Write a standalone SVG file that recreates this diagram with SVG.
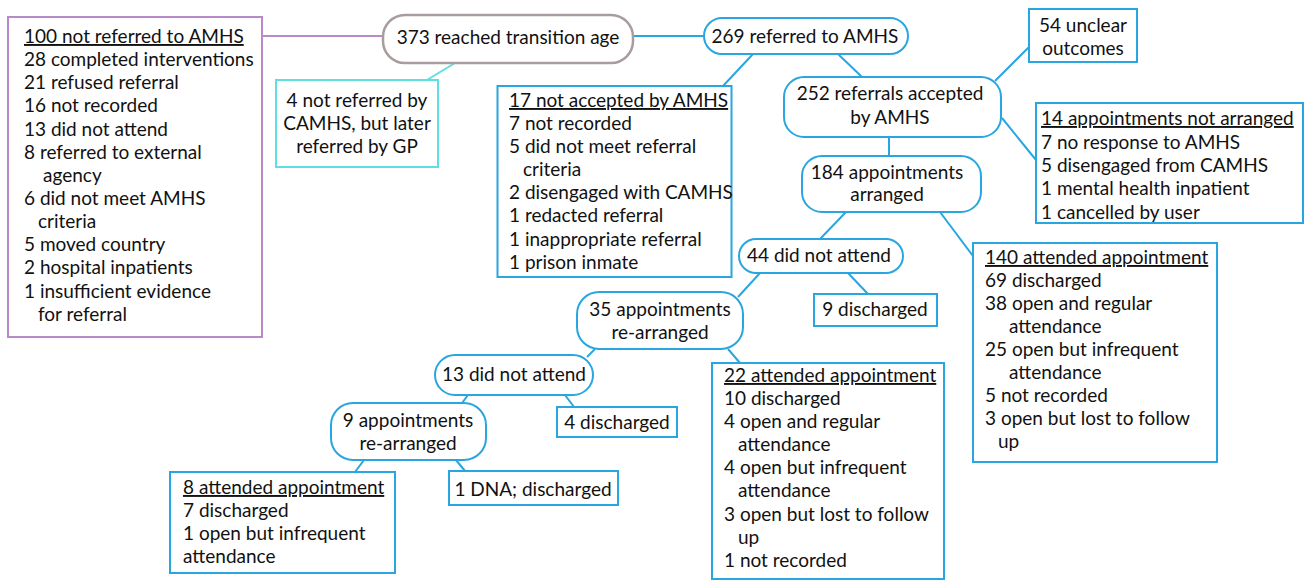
<svg xmlns="http://www.w3.org/2000/svg" width="1306" height="581" viewBox="0 0 1306 581">
<style>
text{font-family:Lato,"Liberation Sans",sans-serif;font-size:19px;fill:#111}
.c{text-anchor:middle}
.u{text-decoration:underline}
.b{fill:#fff;stroke:#29a6e0;stroke-width:2}
.p{fill:#fff;stroke:#b98ac8;stroke-width:2}
.g{fill:#fff;stroke:#a89c9c;stroke-width:2.5}
.cy{fill:#fff;stroke:#5fdfe0;stroke-width:2}
.lb{stroke:#29a6e0;stroke-width:2;fill:none}
.lp{stroke:#b98ac8;stroke-width:2;fill:none}
.lc{stroke:#5fdfe0;stroke-width:2;fill:none}
</style>
<rect width="1306" height="581" fill="#fff"/>
<g id="connectors">
<line class="lp" x1="262" y1="36" x2="383" y2="36"/>
<line class="lc" x1="455" y1="63" x2="427" y2="80"/>
<line class="lb" x1="633" y1="36" x2="704" y2="36"/>
<line class="lb" x1="753" y1="54" x2="723" y2="86"/>
<line class="lb" x1="838" y1="54" x2="862" y2="77"/>
<line class="lb" x1="995" y1="81" x2="1029" y2="47"/>
<line class="lb" x1="1002" y1="118" x2="1036" y2="160"/>
<line class="lb" x1="889" y1="137" x2="889" y2="156"/>
<line class="lb" x1="846" y1="212" x2="820" y2="239"/>
<line class="lb" x1="940" y1="212" x2="973" y2="256"/>
<line class="lb" x1="760" y1="273" x2="738" y2="297"/>
<line class="lb" x1="848" y1="273" x2="868" y2="294"/>
<line class="lb" x1="728" y1="349" x2="740" y2="363"/>
<line class="lb" x1="595" y1="349" x2="587" y2="357"/>
<line class="lb" x1="565" y1="395" x2="574" y2="407"/>
<line class="lb" x1="468" y1="395" x2="462" y2="403"/>
<line class="lb" x1="364" y1="460" x2="355" y2="472"/>
<line class="lb" x1="456" y1="460" x2="465" y2="471"/>
</g>
<g id="not-referred">
<rect class="p" x="8" y="17" width="254" height="320"/>
<text x="24" y="43" class="u">100 not referred to AMHS</text>
<text x="24" y="66">28 completed interventions</text>
<text x="24" y="89">21 refused referral</text>
<text x="24" y="112">16 not recorded</text>
<text x="24" y="136">13 did not attend</text>
<text x="24" y="159">8 referred to external</text>
<text x="43" y="182">agency</text>
<text x="24" y="205">6 did not meet AMHS</text>
<text x="38" y="228">criteria</text>
<text x="24" y="251">5 moved country</text>
<text x="24" y="274">2 hospital inpatients</text>
<text x="24" y="298">1 insufficient evidence</text>
<text x="38" y="321">for referral</text>
</g>
<g id="gp">
<rect class="cy" x="276" y="80" width="162" height="87"/>
<text x="357" y="107" class="c">4 not referred by</text>
<text x="357" y="130" class="c">CAMHS, but later</text>
<text x="357" y="153" class="c">referred by GP</text>
</g>
<g id="reached">
<rect class="g" x="383" y="15" width="250" height="48" rx="22"/>
<text x="508" y="44" class="c">373 reached transition age</text>
</g>
<g id="referred">
<rect class="b" x="704" y="18" width="204" height="36" rx="18"/>
<text x="805" y="43" class="c">269 referred to AMHS</text>
</g>
<g id="not-accepted">
<rect class="b" x="497.5" y="86" width="234" height="191"/>
<text x="509" y="107" class="u">17 not accepted by AMHS</text>
<text x="509" y="130">7 not recorded</text>
<text x="509" y="153">5 did not meet referral</text>
<text x="523" y="176">criteria</text>
<text x="509" y="199">2 disengaged with CAMHS</text>
<text x="509" y="222">1 redacted referral</text>
<text x="509" y="246">1 inappropriate referral</text>
<text x="509" y="269">1 prison inmate</text>
</g>
<g id="unclear">
<rect class="b" x="1029" y="9" width="108" height="53"/>
<text x="1083" y="32" class="c">54 unclear</text>
<text x="1083" y="55" class="c">outcomes</text>
</g>
<g id="accepted">
<rect class="b" x="784" y="77" width="217" height="60" rx="20"/>
<text x="890" y="100" class="c">252 referrals accepted</text>
<text x="890" y="124" class="c">by AMHS</text>
</g>
<g id="not-arranged">
<rect class="b" x="1036" y="103" width="267" height="120"/>
<text x="1041" y="125" class="u">14 appointments not arranged</text>
<text x="1041" y="149">7 no response to AMHS</text>
<text x="1041" y="172">5 disengaged from CAMHS</text>
<text x="1041" y="195">1 mental health inpatient</text>
<text x="1041" y="219">1 cancelled by user</text>
</g>
<g id="arranged">
<rect class="b" x="802" y="156" width="179" height="56" rx="20"/>
<text x="887" y="179" class="c">184 appointments</text>
<text x="887" y="201" class="c">arranged</text>
</g>
<g id="attended-140">
<rect class="b" x="973" y="243" width="244" height="219"/>
<text x="985" y="264" class="u">140 attended appointment</text>
<text x="985" y="287">69 discharged</text>
<text x="985" y="310">38 open and regular</text>
<text x="1009" y="333">attendance</text>
<text x="985" y="356">25 open but infrequent</text>
<text x="1009" y="379">attendance</text>
<text x="985" y="402">5 not recorded</text>
<text x="985" y="425">3 open but lost to follow</text>
<text x="998" y="448">up</text>
</g>
<g id="dna-44">
<rect class="b" x="739" y="239" width="164" height="34" rx="17"/>
<text x="819" y="262" class="c">44 did not attend</text>
</g>
<g id="discharged-9">
<rect class="b" x="814" y="294" width="123" height="32"/>
<text x="875" y="316" class="c">9 discharged</text>
</g>
<g id="rearranged-35">
<rect class="b" x="577" y="292" width="166" height="57" rx="22"/>
<text x="660" y="316" class="c">35 appointments</text>
<text x="660" y="339" class="c">re-arranged</text>
</g>
<g id="attended-22">
<rect class="b" x="712" y="363" width="232" height="216"/>
<text x="724" y="382" class="u">22 attended appointment</text>
<text x="724" y="405">10 discharged</text>
<text x="724" y="428">4 open and regular</text>
<text x="738" y="451">attendance</text>
<text x="724" y="474">4 open but infrequent</text>
<text x="738" y="497">attendance</text>
<text x="724" y="521">3 open but lost to follow</text>
<text x="738" y="544">up</text>
<text x="724" y="567">1 not recorded</text>
</g>
<g id="dna-13">
<rect class="b" x="435" y="355" width="158" height="40" rx="20"/>
<text x="514" y="381" class="c">13 did not attend</text>
</g>
<g id="discharged-4">
<rect class="b" x="557" y="407" width="120" height="30"/>
<text x="617" y="429" class="c">4 discharged</text>
</g>
<g id="rearranged-9">
<rect class="b" x="331" y="403" width="155" height="57" rx="22"/>
<text x="408" y="427" class="c">9 appointments</text>
<text x="408" y="450" class="c">re-arranged</text>
</g>
<g id="attended-8">
<rect class="b" x="170" y="472" width="225" height="101"/>
<text x="183" y="494" class="u">8 attended appointment</text>
<text x="183" y="517">7 discharged</text>
<text x="183" y="540">1 open but infrequent</text>
<text x="183" y="563">attendance</text>
</g>
<g id="dna-discharged">
<rect class="b" x="449" y="471" width="169" height="34"/>
<text x="533" y="496" class="c">1 DNA; discharged</text>
</g>
</svg>
